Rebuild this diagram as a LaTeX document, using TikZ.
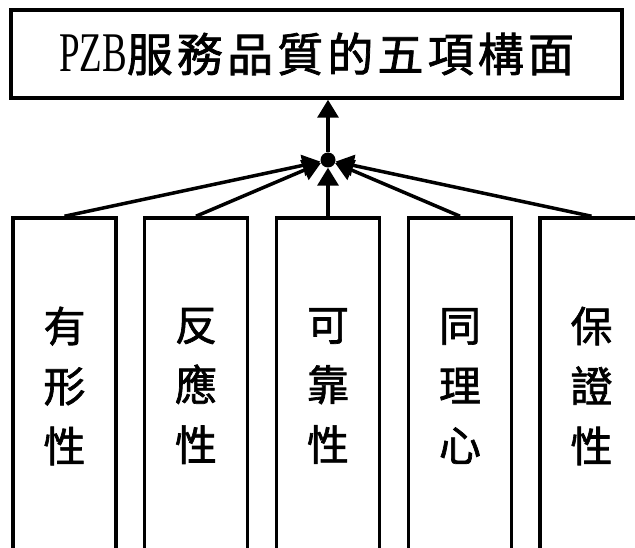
\documentclass[tikz,border=0pt]{standalone}
\usepackage{fontspec}
\setmainfont{Liberation Serif}
\newfontfamily\cjk[FakeBold=1.6]{Noto Sans CJK TC}
\newfontfamily\cjkwide[FakeBold=1.6,LetterSpace=9]{Noto Sans CJK TC}
\newfontfamily\pzb[FakeStretch=0.66]{Liberation Serif}
\usetikzlibrary{arrows.meta}
\begin{document}
\begin{tikzpicture}[x=1pt,y=-1pt,
  titlebox/.style={draw, line width=3.5pt, minimum width=611pt, minimum height=88pt, inner sep=0pt},
  colbox/.style={draw, line width=3.5pt, minimum width=103pt, minimum height=336pt, inner sep=0pt,
    font=\cjk\fontsize{42}{60}\selectfont, align=center},
  hub/.style={circle, fill=black, minimum size=15pt, inner sep=0pt},
  arr/.style={-{Triangle[length=18pt 0,width=21pt 0]}, line width=3.5pt}]
\useasboundingbox (0,0) rectangle (635,548);
\clip (0,0) rectangle (635,548);
\node[titlebox] (top) at (316.5,54) {{\pzb\fontsize{56}{60}\selectfont PZB}{\cjkwide\fontsize{46}{50}\selectfont 服務品質的五項構面}};
\node[hub] (dot) at (328,160) {};
\node[colbox] (b1) at (64.5,386) {有\\形\\性};
\node[colbox] (b2) at (196,386) {反\\應\\性};
\node[colbox] (b3) at (328,386) {可\\靠\\性};
\node[colbox] (b4) at (460,386) {同\\理\\心};
\node[colbox] (b5) at (591.5,386) {保\\證\\性};
\draw[arr] (dot) -- (dot |- top.south);
\foreach \b in {b1,b2,b3,b4,b5}{\draw[arr] (\b.north) -- (dot);}
\end{tikzpicture}
\end{document}
